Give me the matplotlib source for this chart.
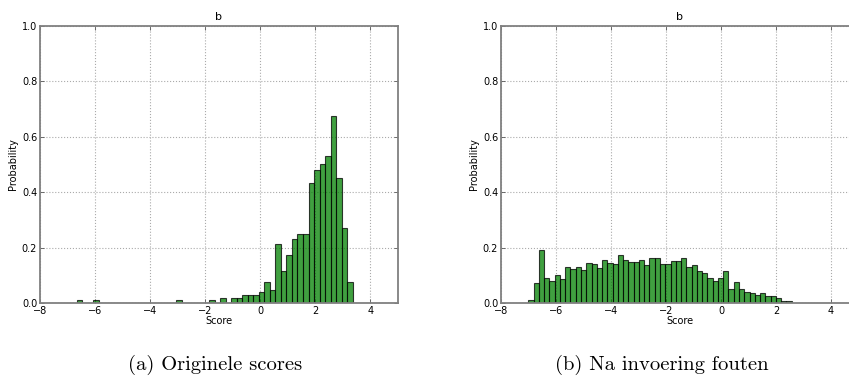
import numpy as np
import matplotlib
matplotlib.use("Agg")
import matplotlib.pyplot as plt

# histogram (a): 50 bins, normed heights
edges_a = np.linspace(-6.67, 3.355, 51)
heights_a = [0.01, 0.0, 0.0, 0.01, 0.0, 0.0, 0.0, 0.0, 0.0, 0.0,
             0.0, 0.0, 0.0, 0.0, 0.0, 0.0, 0.0, 0.0, 0.01, 0.0,
             0.0, 0.0, 0.0, 0.0, 0.01, 0.0, 0.018, 0.0, 0.02, 0.02,
             0.03, 0.03, 0.03, 0.04, 0.076, 0.047, 0.212, 0.115, 0.173, 0.231,
             0.249, 0.249, 0.433, 0.48, 0.501, 0.529, 0.675, 0.451, 0.27, 0.076]

# histogram (b): after introducing errors
edges_b = np.linspace(-7.006, 2.57, 51)
heights_b = [0.01, 0.071, 0.19, 0.091, 0.08, 0.1, 0.085, 0.131, 0.124, 0.131,
             0.119, 0.145, 0.14, 0.125, 0.154, 0.144, 0.142, 0.173, 0.154, 0.148,
             0.148, 0.154, 0.136, 0.164, 0.163, 0.14, 0.14, 0.151, 0.151, 0.164,
             0.13, 0.137, 0.115, 0.108, 0.091, 0.08, 0.09, 0.114, 0.05, 0.076,
             0.052, 0.04, 0.037, 0.03, 0.035, 0.026, 0.026, 0.018, 0.006, 0.006]

xticks = [-8, -6, -4, -2, 0, 2, 4]
yticks = [0.0, 0.2, 0.4, 0.6, 0.8, 1.0]
captions = ["(a) Originele scores", "(b) Na invoering fouten"]

fig = plt.figure(figsize=(8.49, 3.76), dpi=100)
ax_a = fig.add_axes([40 / 849, 0.194, 358 / 849, 0.738])
ax_b = fig.add_axes([501 / 849, 0.194, 357.5 / 849, 0.738])


def draw_hist(ax, edges, heights):
    ax.bar(edges[:-1], heights, width=np.diff(edges), align='edge',
           color=(0.0, 0.5, 0.0, 0.75), edgecolor=(0, 0, 0, 0.75),
           linewidth=0.8, zorder=2)
    ax.set_xlim(-8, 5)
    ax.set_ylim(0, 1.0)
    ax.set_xticks(xticks)
    ax.set_yticks(yticks)
    ax.yaxis.set_major_formatter(matplotlib.ticker.FormatStrFormatter('%.1f'))
    ax.grid(True, linestyle=':', color='#aaaaaa', linewidth=0.8, zorder=0)
    ax.tick_params(direction='in', length=3, width=0.6, labelsize=7,
                   top=True, right=True, pad=2, color='#555555')
    for s in ax.spines.values():
        s.set_color('#808080')
        s.set_linewidth(1.3)
    ax.set_title('b', fontsize=8, pad=4)
    ax.set_xlabel('Score', fontsize=7, labelpad=0)
    ax.set_ylabel('Probability', fontsize=7, labelpad=3)


draw_hist(ax_a, edges_a, heights_a)
draw_hist(ax_b, edges_b, heights_b)

fig.text(215 / 849, 1 - 370 / 376, captions[0], family='cmr10',
         fontsize=14.8, ha='center', va='baseline')
fig.text(662 / 849, 1 - 370 / 376, captions[1], family='cmr10',
         fontsize=14.8, ha='center', va='baseline')

fig.savefig('out.png', dpi=100)
